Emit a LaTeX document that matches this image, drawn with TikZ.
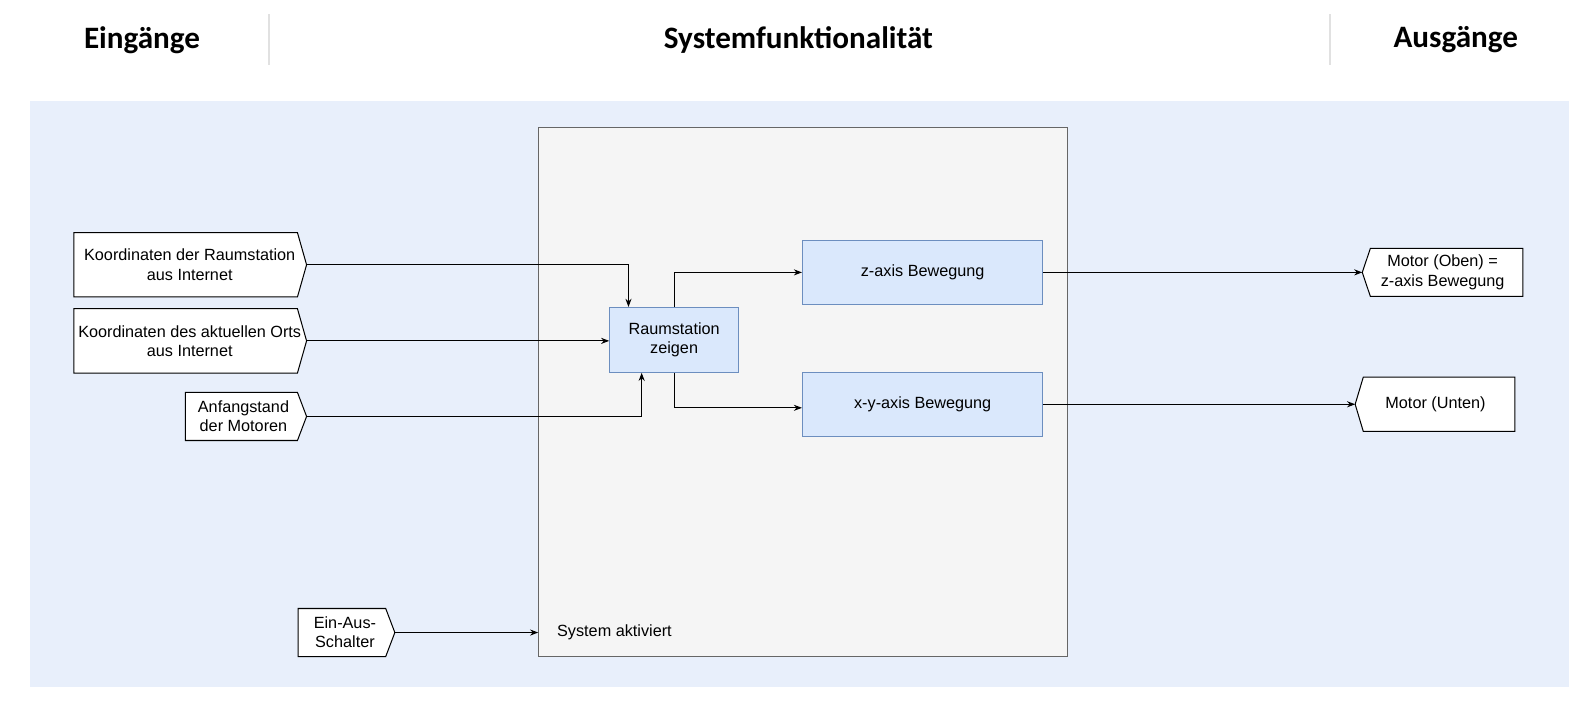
\documentclass[tikz,border=0pt]{standalone}
\usepackage{fontspec}
\setmainfont{Liberation Sans}
\newfontfamily\headfont{Carlito}
\usetikzlibrary{calc,arrows.meta}
\definecolor{bgblue}{RGB}{232,239,251}
\definecolor{sysgray}{HTML}{F5F5F5}
\definecolor{sysline}{HTML}{666666}
\definecolor{bluefill}{HTML}{DAE8FC}
\definecolor{blueline}{HTML}{6C8EBF}
\definecolor{sepgray}{RGB}{225,225,225}
\tikzset{
  body/.style={font=\fontsize{16}{19}\selectfont},
  head/.style={font=\headfont\bfseries\fontsize{30.7}{36}\selectfont},
  iobox/.style={body, inner sep=0pt, align=center},
  ioline/.style={draw=black, fill=white, line width=1pt, line join=miter},
  funcbox/.style={body, draw=blueline, fill=bluefill, line width=1pt, inner sep=0pt, align=center},
  conn/.style={draw=black, line width=1pt, -{Stealth[length=8pt,width=6pt]}},
  sep/.style={draw=sepgray, line width=1.5pt}
}
\begin{document}
\begin{tikzpicture}[x=1pt,y=-1pt]
\useasboundingbox (0,0) rectangle (1567.3,709.7);
% headers
\node[head] (h1) at (140,39.5) {Eingänge};
\node[head] (h2) at (787,39.5) {Systemfunktionalität};
\node[head] (h3) at (1435,39.5) {Ausgänge};
\draw[sep] (265,14) -- (265,64);
\draw[sep] (1311,14) -- (1311,64);
% background
\fill[bgblue] (30,100) rectangle (1547,677);
% system box
\node[draw=sysline, fill=sysgray, line width=1pt, minimum width=521, minimum height=521, inner sep=0pt] (sys) at (791.5,386.5) {};
\node[body, anchor=west, inner sep=0pt] (akt) at (549,623) {System aktiviert};
% function boxes
\node[funcbox, minimum width=127, minimum height=64] (rz) at (664.5,335) {Raumstation\\zeigen};
\node[funcbox, minimum width=237, minimum height=63] (zb) at (909.5,268.5) {z-axis Bewegung};
\node[funcbox, minimum width=237, minimum height=63] (xyb) at (909.5,398.5) {x-y-axis Bewegung};
% inputs
\node[iobox, minimum width=220, minimum height=63] (in1) at (183,261) {};
\draw[ioline] (in1.north west) -- (in1.north east) -- ($(in1.east)+(9,0)$) coordinate (in1tip) -- (in1.south east) -- (in1.south west) -- cycle;
\node[body, align=center] (t1) at (187,261) {Koordinaten der Raumstation\\aus Internet};
\node[iobox, minimum width=220, minimum height=63] (in2) at (183,336) {};
\draw[ioline] (in2.north west) -- (in2.north east) -- ($(in2.east)+(9,0)$) coordinate (in2tip) -- (in2.south east) -- (in2.south west) -- cycle;
\node[body, align=center] (t2) at (187,336) {Koordinaten des aktuellen Orts\\aus Internet};
\node[iobox, minimum width=110, minimum height=47] (in3) at (238,410.5) {};
\draw[ioline] (in3.north west) -- (in3.north east) -- ($(in3.east)+(9,0)$) coordinate (in3tip) -- (in3.south east) -- (in3.south west) -- cycle;
\node[body, align=center] (t3) at (240,410.5) {Anfangstand\\der Motoren};
\node[iobox, minimum width=86, minimum height=47] (in4) at (337,623.5) {};
\draw[ioline] (in4.north west) -- (in4.north east) -- ($(in4.east)+(9,0)$) coordinate (in4tip) -- (in4.south east) -- (in4.south west) -- cycle;
\node[body, align=center] (t4) at (340,623.5) {Ein-Aus-\\Schalter};
% outputs
\node[iobox, minimum width=150, minimum height=47] (out1) at (1426,268.5) {};
\draw[ioline] (out1.north east) -- (out1.north west) -- ($(out1.west)+(-8,0)$) coordinate (out1tip) -- (out1.south west) -- (out1.south east) -- cycle;
\node[body, align=center] (t5) at (1422,268.5) {Motor (Oben) =\\z-axis Bewegung};
\node[iobox, minimum width=149, minimum height=53] (out2) at (1418.5,398.5) {};
\draw[ioline] (out2.north east) -- (out2.north west) -- ($(out2.west)+(-8,0)$) coordinate (out2tip) -- (out2.south west) -- (out2.south east) -- cycle;
\node[body, align=center] (t6) at (1415,398.5) {Motor (Unten)};
% connectors
\draw[conn] (in1tip) -| ($(rz.north west)+(19,0)$);
\draw[conn] (in2tip) -- (in2tip -| rz.west);
\draw[conn] (in3tip) -| ($(rz.south west)+(32,0)$);
\draw[conn] (rz.north) |- (zb.west);
\draw[conn] (rz.south) |- ($(xyb.west)+(0,3.5)$);
\draw[conn] (zb.east) -- (out1tip);
\draw[conn] (xyb.east) -- (out2tip);
\draw[conn] (in4tip) -- (in4tip -| sys.west);
\end{tikzpicture}
\end{document}
